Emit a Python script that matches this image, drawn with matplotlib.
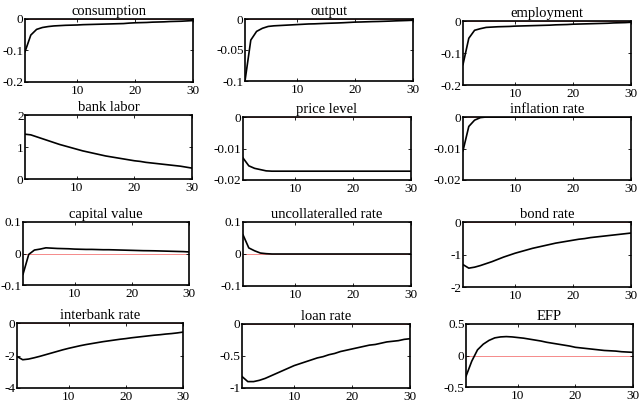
import matplotlib
matplotlib.use('Agg')
import matplotlib.pyplot as plt

# impulse responses, 30 periods
t = list(range(1, 31))

consumption = [-0.104, -0.051, -0.033, -0.027, -0.024, -0.022, -0.021, -0.020, -0.0195, -0.019,
               -0.018, -0.0175, -0.017, -0.0165, -0.016, -0.0155, -0.015, -0.0145, -0.013, -0.012,
               -0.0115, -0.011, -0.010, -0.0095, -0.009, -0.008, -0.0075, -0.007, -0.006, -0.005]
output = [-0.100, -0.034, -0.020, -0.015, -0.012, -0.011, -0.0105, -0.010, -0.0095, -0.009,
          -0.0085, -0.008, -0.0078, -0.0074, -0.007, -0.0067, -0.0064, -0.006, -0.0055, -0.005,
          -0.0048, -0.0045, -0.0042, -0.004, -0.0037, -0.0034, -0.003, -0.0027, -0.0024, -0.002]
employment = [-0.136, -0.054, -0.029, -0.024, -0.020, -0.019, -0.018, -0.0175, -0.017, -0.016,
              -0.0155, -0.015, -0.0145, -0.014, -0.0135, -0.013, -0.012, -0.0115, -0.011, -0.010,
              -0.0095, -0.009, -0.0085, -0.008, -0.0075, -0.007, -0.006, -0.0055, -0.005, -0.004]
bank_labor = [1.40, 1.38, 1.32, 1.26, 1.20, 1.14, 1.08, 1.03, 0.98, 0.93,
              0.88, 0.84, 0.80, 0.76, 0.72, 0.69, 0.66, 0.63, 0.60, 0.57,
              0.55, 0.52, 0.50, 0.48, 0.46, 0.44, 0.42, 0.40, 0.37, 0.34]
price_level = [-0.0130, -0.0155, -0.0163, -0.0167, -0.0171] + [-0.0172] * 25
inflation_rate = [-0.0107, -0.0030, -0.0010, -0.0002] + [0.0] * 26
capital_value = [-0.066, -0.003, 0.011, 0.014, 0.018, 0.017, 0.016, 0.0155, 0.015, 0.014,
                 0.0135, 0.013, 0.013, 0.0125, 0.012, 0.012, 0.0115, 0.011, 0.0105, 0.010,
                 0.0095, 0.009, 0.0088, 0.0085, 0.008, 0.0075, 0.007, 0.0065, 0.006, 0.005]
uncollateralled_rate = [0.060, 0.019, 0.010, 0.003, 0.001] + [0.0] * 25
bond_rate = [-1.31, -1.42, -1.39, -1.34, -1.28, -1.22, -1.15, -1.08, -1.02, -0.96,
             -0.91, -0.86, -0.81, -0.77, -0.73, -0.69, -0.65, -0.62, -0.59, -0.56,
             -0.53, -0.51, -0.48, -0.46, -0.44, -0.42, -0.40, -0.38, -0.36, -0.34]
interbank_rate = [-2.06, -2.26, -2.22, -2.14, -2.05, -1.95, -1.85, -1.75, -1.65, -1.56,
                  -1.48, -1.40, -1.33, -1.27, -1.21, -1.15, -1.10, -1.05, -1.00, -0.96,
                  -0.91, -0.87, -0.83, -0.79, -0.75, -0.72, -0.68, -0.65, -0.61, -0.56]
loan_rate = [-0.82, -0.90, -0.90, -0.88, -0.85, -0.81, -0.77, -0.73, -0.69, -0.65,
             -0.62, -0.59, -0.56, -0.53, -0.51, -0.48, -0.46, -0.43, -0.41, -0.39,
             -0.37, -0.35, -0.33, -0.32, -0.30, -0.28, -0.27, -0.26, -0.24, -0.23]
efp = [-0.33, -0.09, 0.09, 0.18, 0.24, 0.28, 0.295, 0.30, 0.295, 0.285,
       0.275, 0.26, 0.245, 0.23, 0.21, 0.195, 0.18, 0.165, 0.15, 0.13,
       0.12, 0.11, 0.10, 0.09, 0.08, 0.075, 0.07, 0.06, 0.055, 0.05]

titles = ['consumption', 'output', 'employment', 'bank labor', 'price level', 'inflation rate',
          'capital value', 'uncollateralled rate', 'bond rate', 'interbank rate', 'loan rate', 'EFP']
series = [consumption, output, employment, bank_labor, price_level, inflation_rate,
          capital_value, uncollateralled_rate, bond_rate, interbank_rate, loan_rate, efp]
yticks = [[-0.2, -0.1, 0], [-0.1, -0.05, 0], [-0.2, -0.1, 0],
          [0, 1, 2], [-0.02, -0.01, 0], [-0.02, -0.01, 0],
          [-0.1, 0, 0.1], [-0.1, 0, 0.1], [-2, -1, 0],
          [-4, -2, 0], [-1, -0.5, 0], [-0.5, 0, 0.5]]
yticklabels = [['-0.2', '-0.1', '0'], ['-0.1', '-0.05', '0'], ['-0.2', '-0.1', '0'],
               ['0', '1', '2'], ['-0.02', '-0.01', '0'], ['-0.02', '-0.01', '0'],
               ['-0.1', '0', '0.1'], ['-0.1', '0', '0.1'], ['-2', '-1', '0'],
               ['-4', '-2', '0'], ['-1', '-0.5', '0'], ['-0.5', '0', '0.5']]

# axes boxes in pixels: left, right, top, bottom
W, H = 641, 413
boxes = [(25, 193, 19, 82), (245, 413, 19, 81), (463, 631, 21, 85),
         (25, 192, 115, 179), (243, 411, 117, 180), (463, 631, 117, 180),
         (23, 189, 222, 285), (243, 411, 222, 286), (463, 631, 222, 287),
         (17, 183, 323, 388), (242, 410, 324, 388), (466, 633, 324, 387)]

plt.rcParams['font.family'] = 'Liberation Serif'
plt.rcParams['font.size'] = 10

fig = plt.figure(figsize=(W / 100, H / 100), dpi=100)
for i in range(12):
    l, r, tp, b = boxes[i]
    ax = fig.add_axes([l / W, 1 - b / H, (r - l) / W, (b - tp) / H])
    ax.axhline(0, color='#ee3333', lw=0.4, zorder=1)
    ax.plot(t, series[i], color='black', lw=1.2, zorder=2)
    ax.set_xlim(1, 30)
    ax.set_ylim(yticks[i][0], yticks[i][-1])
    ax.set_xticks([10, 20, 30])
    ax.set_yticks(yticks[i])
    ax.set_yticklabels(yticklabels[i])
    ax.tick_params(direction='in', length=2.5, width=0.6, top=True, right=True, labelsize=9.5)
    ax.tick_params(axis='y', pad=1)
    ax.tick_params(axis='x', pad=2)
    for s in ax.spines.values():
        s.set_linewidth(1.2)
    ax.set_title(titles[i], fontsize=10.5, pad=3)

fig.savefig('out.png', dpi=100)
